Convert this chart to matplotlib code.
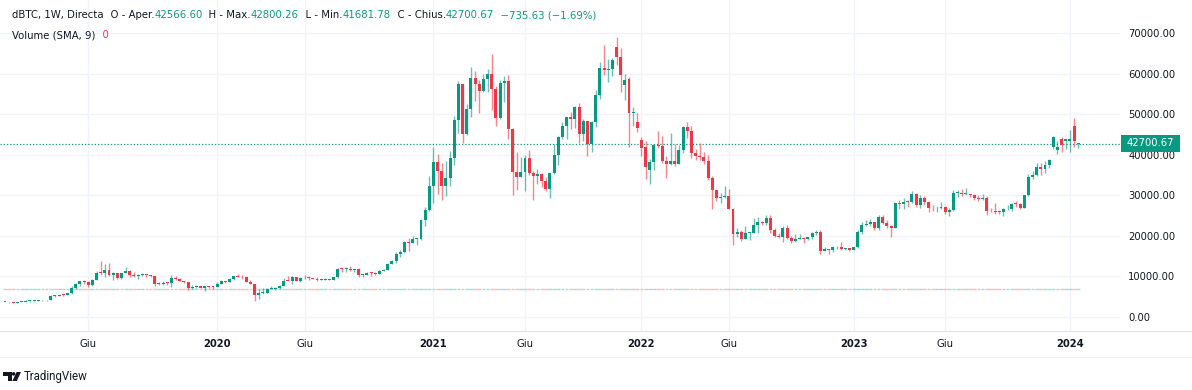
import matplotlib
matplotlib.use('Agg')
import matplotlib.pyplot as plt
from matplotlib.patches import Rectangle, Polygon, Ellipse

plt.rcParams['font.family'] = ['DejaVu Sans']

# weekly bars (dBTC, Directa), from the week of 2019-01-14 to 2024-01-15
# (no bars for the last weeks of Dec 2021)
opens = [
    # 2019
    3560, 3540, 3520, 3410, 3660, 3670, 3800, 3820, 3950, 4030, 4010, 4110,
    5070, 5040, 5320, 5270, 5830, 6980, 8200, 8750, 8550, 7950, 8980, 10860, 10820,
    11460, 10200, 10750, 9480, 10800, 11300, 10230, 10140, 10380, 10400, 10310, 9980, 8060,
    8160, 8290, 8240, 9550, 9200, 8800, 8500, 7050, 7400, 7500, 7080, 7500, 7380,
    # 2020
    7350, 8200, 8700, 8600, 9350, 10100, 9900, 9700, 8550, 8030, 5360, 5830, 5880,
    6860, 6900, 7120, 7700, 8900, 8750, 9700, 8900, 9450, 9670, 9470, 9300, 9000,
    9100, 9250, 9150, 9700, 11800, 11700, 11900, 11650, 11700, 10250, 10300, 10900, 10750,
    10650, 11380, 11500, 13100, 13800, 15500, 16000, 18400, 18200, 19150, 19250, 23800, 26400,
    # 2021
    32200, 38150, 36000, 32250, 34300, 39200, 48600, 57500, 45100, 51200, 59000, 57400, 55800,
    58800, 60000, 56200, 49000, 57800, 58300, 46400, 35700, 34600, 35800, 39100, 35600, 34700,
    35300, 33500, 31500, 35400, 39900, 44400, 47100, 49300, 48800, 51800, 45200, 48300, 42700,
    48200, 54700, 61500, 60900, 61300, 66700, 64200, 57300, 58600, 50200, 48000,
    # 2022
    43600, 42000, 36200, 38200, 42400, 42200, 38400, 37700, 38400, 37800, 41300, 46800,
    45800, 40400, 39700, 39500, 38500, 34300, 31300, 29400, 29500, 29900, 26600, 20550, 21000,
    19300, 20800, 20800, 22600, 23300, 23200, 24300, 21500, 20000, 19800, 21800, 19400, 18800,
    19300, 19400, 19200, 19600, 20600, 21000, 16300, 16700, 16450, 17100, 17100, 16800, 16850,
    # 2023
    16600, 17100, 20900, 22700, 23000, 23300, 21800, 24600, 23100, 22400, 22000, 28000, 27900,
    28450, 28300, 30300, 27600, 29200, 28400, 26900, 26750, 26850, 27100, 25850, 26300, 30500,
    30600, 30300, 30300, 30100, 29300, 29050, 29400, 26100, 26000, 25900, 25850, 26500, 26600,
    27950, 27900, 26850, 30000, 34500, 35000, 37100, 36500, 37450, 42000, 41300, 43800, 43300,
    # 2024
    43400, 47100, 42566.60,
]
highs = [
    3740, 3640, 3560, 3700, 3700, 4200, 3900, 3980, 4080, 4100, 4130, 5300,
    5460, 5340, 5650, 5900, 7500, 8320, 8920, 9100, 8800, 9300, 11200, 13880, 12900,
    13200, 11000, 10900, 10900, 12300, 11500, 10950, 10600, 10900, 10450, 10380, 10050, 8500,
    8800, 8500, 10350, 9950, 9500, 8900, 8520, 7850, 7750, 7650, 7550, 7700, 7550,
    8450, 9150, 8760, 9550, 10150, 10500, 10200, 9950, 9180, 8180, 6900, 6980, 7200,
    7470, 7300, 7780, 9450, 10050, 9950, 9850, 9750, 10400, 10000, 9650, 9750, 9300,
    9470, 9350, 9750, 12000, 12050, 12200, 12450, 11800, 12050, 10600, 11150, 10950, 10950,
    11450, 11700, 13350, 14050, 15950, 16450, 18800, 19400, 19900, 19400, 24200, 27000, 34800,
    41950, 40100, 37850, 38500, 40900, 49700, 58300, 57600, 52600, 61700, 60600, 58400, 60000,
    61200, 64800, 57000, 58400, 59500, 59600, 46700, 40800, 39400, 40000, 41300, 36000, 36600,
    35500, 34600, 35500, 42600, 44700, 48100, 49400, 50500, 52000, 52900, 48800, 48400, 48400,
    56100, 62900, 67000, 63700, 63800, 69000, 66300, 59900, 59200, 51900, 50200,
    44400, 43500, 38900, 42700, 45800, 44700, 39800, 45400, 42600, 42300, 47000, 48200,
    47100, 41500, 42900, 40800, 40000, 34700, 31400, 30600, 32200, 31600, 26800, 21900, 21500,
    22500, 21000, 24300, 24600, 23600, 25200, 25200, 21900, 20600, 22400, 22700, 19900, 20400,
    20500, 19700, 19700, 21000, 21500, 21400, 17200, 16800, 17400, 17400, 18400, 17000, 16950,
    17200, 21300, 23300, 23800, 24200, 23400, 25200, 25100, 23900, 22600, 28400, 28900, 29200,
    28800, 31000, 30500, 30000, 29800, 28600, 27700, 27400, 28400, 27400, 26800, 31400, 31300,
    31500, 31800, 30400, 30300, 29950, 30200, 29700, 26800, 28100, 26400, 26800, 27500, 28000,
    28600, 28000, 30100, 35200, 35900, 37900, 37900, 38400, 39000, 44700, 43400, 44300, 44000,
    46100, 49200, 42800.26,
]
lows = [
    3530, 3480, 3400, 3390, 3580, 3660, 3740, 3700, 3820, 3950, 3960, 4100,
    4950, 5000, 5080, 5250, 5650, 6900, 7600, 8000, 7450, 7550, 8950, 10300, 9700,
    10100, 9100, 9200, 9400, 10700, 9800, 9800, 9350, 10150, 9900, 9850, 7700, 7800,
    7850, 7900, 7350, 8970, 8700, 8350, 6600, 6850, 7150, 7050, 6450, 7150, 6870,
    7300, 8080, 8250, 8530, 9150, 9750, 9300, 8500, 8000, 3850, 4450, 5650, 5860,
    6750, 6500, 6800, 7650, 8700, 8200, 8800, 8650, 9300, 9150, 9200, 8850, 8950,
    9080, 9080, 9130, 9650, 11000, 11150, 11300, 11150, 9900, 9900, 10250, 10150, 10400,
    10550, 11250, 11420, 12900, 13300, 14850, 15800, 16300, 18100, 17600, 19000, 22400, 26100,
    28000, 30400, 28900, 29800, 32300, 37400, 45500, 43000, 44900, 49300, 53300, 50400, 55500,
    55600, 51000, 47000, 48800, 53000, 43800, 30000, 31200, 34400, 31000, 34900, 28800, 32700,
    32100, 31100, 29300, 35200, 37500, 43800, 43900, 46400, 46500, 42800, 43400, 39600, 40800,
    46900, 53900, 59800, 58000, 59500, 62300, 55600, 53500, 42000, 47100, 45700,
    39600, 34000, 32900, 36300, 41700, 38000, 34300, 37500, 37200, 37600, 40500, 44200,
    39300, 38600, 38600, 37700, 33700, 26700, 28600, 28000, 29300, 26500, 17600, 19700, 18600,
    19100, 18900, 20700, 20800, 22600, 22700, 20800, 19800, 19500, 18500, 19300, 18200, 18500,
    19100, 18200, 18900, 19200, 20100, 15600, 16200, 15500, 16000, 16700, 16500, 16400, 16350,
    16500, 17000, 20400, 22300, 22500, 21400, 21400, 22900, 22000, 19600, 21900, 26600, 26500,
    27200, 28200, 27100, 26900, 27700, 25800, 26100, 25900, 26600, 25400, 24800, 26200, 29600,
    29800, 29950, 29600, 28900, 28600, 28800, 25200, 25800, 25400, 25400, 24900, 26400, 26000,
    27200, 26600, 26800, 29900, 33900, 34700, 34900, 35600, 36800, 41500, 40200, 40600, 41500,
    40800, 42000, 41681.78,
]
closes = [
    3540, 3520, 3410, 3660, 3670, 3800, 3820, 3950, 4030, 4010, 4110, 5070,
    5040, 5320, 5270, 5830, 6980, 8200, 8750, 8550, 7950, 8980, 10860, 10820, 11460,
    10200, 10750, 9480, 10800, 11300, 10230, 10140, 10380, 10400, 10310, 9980, 8060, 8160,
    8290, 8240, 9550, 9200, 8800, 8500, 7050, 7400, 7500, 7080, 7500, 7380, 7350,
    8200, 8700, 8600, 9350, 10100, 9900, 9700, 8550, 8030, 5360, 5830, 5880, 6860,
    6900, 7120, 7700, 8900, 8750, 9700, 8900, 9450, 9670, 9470, 9300, 9000, 9100,
    9250, 9150, 9700, 11800, 11700, 11900, 11650, 11700, 10250, 10300, 10900, 10750, 10650,
    11380, 11500, 13100, 13800, 15500, 16000, 18400, 18200, 19150, 19250, 23800, 26400, 32200,
    38150, 36000, 32250, 34300, 39200, 48600, 57500, 45100, 51200, 59000, 57400, 55800, 58800,
    60000, 56200, 49000, 57800, 58300, 46400, 35700, 34600, 35800, 39100, 35600, 34700, 35300,
    33500, 31500, 35400, 39900, 44400, 47100, 49300, 48800, 51800, 45200, 48300, 42700, 48200,
    54700, 61500, 60900, 61300, 63300, 64200, 59600, 58500, 50200, 50600, 46700,
    41600, 36900, 38200, 42400, 42200, 38400, 37700, 38400, 37800, 41300, 46800, 45800,
    40400, 39700, 39500, 38500, 34300, 31300, 29400, 29500, 29900, 26600, 20550, 21000, 19300,
    20800, 20800, 22600, 23300, 23200, 24300, 21500, 20000, 19800, 21800, 19400, 18800, 19300,
    19400, 19200, 19600, 20600, 21000, 16300, 16700, 16450, 17100, 17100, 16800, 16850, 16600,
    17100, 20900, 22700, 23000, 23300, 21800, 24600, 23100, 22400, 22000, 28000, 27900, 28450,
    28300, 30300, 27600, 29200, 28400, 26900, 26750, 26850, 27100, 25850, 26300, 30500, 30600,
    30300, 30300, 30100, 29300, 29050, 29400, 26100, 26000, 25900, 25850, 26500, 26600, 27950,
    27900, 26850, 30000, 34500, 35000, 37100, 36500, 37450, 38800, 44300, 42000, 42500, 43800,
    43900, 43436.30, 42700.67,
]
# time scale labels, at the bar where each period starts
tick_bars = [20, 51, 72, 103, 125, 153, 174, 204, 226, 256]
tick_labels = ['Giu', '2020', 'Giu', '2021', 'Giu', '2022', 'Giu', '2023', 'Giu', '2024']
price_ticks = [0, 10000, 20000, 30000, 40000, 50000, 60000, 70000]

UP = '#089981'
DOWN = '#F23645'
TXT = '#131722'
GRID = '#f0f3fa'

W, H = 1192, 390
fig = plt.figure(figsize=(W / 100, H / 100), dpi=100)
fig.patch.set_facecolor('white')

# pane: x 0..1120 px, y 0..331 px (from top)
PANE_R, PANE_B = 1120, 331
ax = fig.add_axes([0, (H - PANE_B) / H, PANE_R / W, PANE_B / H])
zero_y = 316.7
per_px = 10000 / 40.48
ax.set_ylim((zero_y - PANE_B) * per_px, zero_y * per_px)
step, x0 = 4.16, 5.0
ax.set_xlim(-x0 / step, (PANE_R - x0) / step)

n = len(closes)
for i in range(n):
    o, h, l, c = opens[i], highs[i], lows[i], closes[i]
    col = UP if c >= o else DOWN
    ax.vlines(i, l, h, color=col, lw=1.0, alpha=0.6, zorder=3)
    ax.add_patch(Rectangle((i - 0.36, min(o, c)), 0.72, max(abs(c - o), per_px * 0.9),
                           fc=col, ec='none', zorder=4))

# volume is 0: only flat marks at the base of the volume area
for i in range(n):
    vc = '#a8ddd4' if closes[i] >= opens[i] else '#f9bcc1'
    ax.hlines((PANE_B - 289) / PANE_B, i - 0.45, i + 0.45, colors=vc, lw=1.0,
              transform=ax.get_xaxis_transform(), zorder=2)

# last price line
ax.axhline(closes[-1], color=UP, lw=0.9, ls=(0, (1, 1.6)), zorder=2)

ax.set_xticks(tick_bars)
ax.set_xticklabels(tick_labels)
for t, lab in zip(ax.get_xticklabels(), tick_labels):
    if lab != 'Giu':
        t.set_fontweight('bold')
ax.set_yticks(price_ticks)
ax.set_yticklabels([f'{v:.2f}' for v in price_ticks])
ax.yaxis.tick_right()
ax.tick_params(axis='y', length=0, pad=6, labelsize=7.2, labelcolor=TXT)
ax.tick_params(axis='x', length=0, pad=6, labelsize=7.2, labelcolor=TXT)
ax.grid(True, color=GRID, lw=1.0, zorder=0)
for sp in ax.spines.values():
    sp.set_visible(False)

fig.add_artist(plt.Line2D([0, 1], [(H - 331) / H] * 2, color='#e0e3eb', lw=0.8))
fig.add_artist(plt.Line2D([0, 1], [(H - 357) / H] * 2, color='#eef0f4', lw=0.8))

# last price label
fig.add_artist(Rectangle((1121 / W, 1 - 152 / H), 59 / W, 17 / H, fc=UP, ec='none',
                         transform=fig.transFigure))
fig.text(1150.5 / W, 1 - 143.5 / H, f'{closes[-1]:.2f}', color='white', fontsize=7.2,
         ha='center', va='center')

# legend lines
fig.canvas.draw()
rend = fig.canvas.get_renderer()


def run_text(x, y, parts, size=7.3):
    for s, col in parts:
        t = fig.text(x / W, 1 - y / H, s, color=col, fontsize=size, ha='left', va='center')
        x += t.get_window_extent(renderer=rend).width


run_text(12, 15, [('dBTC, 1W, Directa', TXT),
                  ('  O - Aper.', TXT), (f'{opens[-1]:.2f}', UP),
                  ('  H - Max.', TXT), (f'{highs[-1]:.2f}', UP),
                  ('  L - Min.', TXT), (f'{lows[-1]:.2f}', UP),
                  ('  C - Chius.', TXT), (f'{closes[-1]:.2f}', UP),
                  ('  \u2212735.63 (\u22121.69%)', UP)])
run_text(12, 35, [('Volume (SMA, 9)', TXT), ('  0', DOWN)])


def fp(pts):
    return [(x / W, 1 - y / H) for x, y in pts]


# TradingView logo
fig.add_artist(Polygon(fp([(3, 372), (11.5, 372), (11.5, 381), (7.6, 381), (7.6, 375.6), (3, 375.6)]),
                       closed=True, fc=TXT, ec='none', transform=fig.transFigure))
fig.add_artist(Ellipse((13.6 / W, 1 - 373.9 / H), 3.6 / W, 3.6 / H, fc=TXT, ec='none',
                       transform=fig.transFigure))
fig.add_artist(Polygon(fp([(16.6, 372), (21, 372), (16.8, 381), (12.4, 381)]),
                       closed=True, fc=TXT, ec='none', transform=fig.transFigure))
fig.text(24 / W, 1 - 376.5 / H, 'TradingView', color=TXT, fontsize=8.3,
         family=['Roboto', 'DejaVu Sans'], ha='left', va='center')

fig.savefig('out.png', dpi=100, facecolor='white')
